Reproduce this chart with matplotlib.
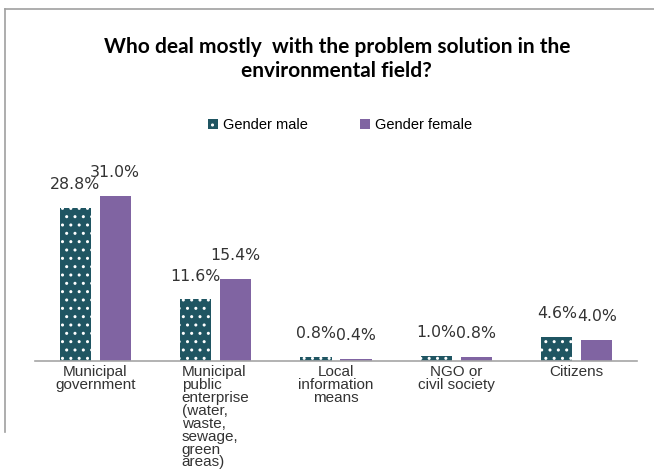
import matplotlib
matplotlib.use("Agg")
import matplotlib.pyplot as plt
from matplotlib.lines import Line2D
import numpy as np

# Survey answers by gender (percent)
categories = [
    "Municipal\ngovernment",
    "Municipal\npublic\nenterprise\n(water,\nwaste,\nsewage,\ngreen\nareas)",
    "Local\ninformation\nmeans",
    "NGO or\ncivil society",
    "Citizens",
]
male = [28.8, 11.6, 0.8, 1.0, 4.6]
female = [31.0, 15.4, 0.4, 0.8, 4.0]
series_names = ["Gender male", "Gender female"]

male_color = "#1F5562"
female_color = "#8064A2"
text_color = "#333333"

plt.rcParams["hatch.linewidth"] = 1.0

fig = plt.figure(figsize=(6.54, 4.76), dpi=100)
ax = fig.add_axes([0.0535, 0.2416, 0.9205, 0.4475])

x = np.arange(len(categories))
offset = 0.166
width = 0.26

bars_m = ax.bar(x - offset, male, width, color=male_color, edgecolor="white",
                linewidth=0, hatch="..", label=series_names[0])
bars_f = ax.bar(x + offset, female, width, color=female_color, linewidth=0,
                label=series_names[1])

for bars, vals in ((bars_m, male), (bars_f, female)):
    for b, v in zip(bars, vals):
        ax.annotate(f"{v:.1f}%", (b.get_x() + b.get_width() / 2, v),
                    xytext=(0, 23), textcoords="offset pixels",
                    ha="center", va="center", fontsize=11.3,
                    family="DejaVu Sans", color=text_color)

ax.set_xlim(-0.5, len(categories) - 0.5)
ax.set_ylim(0, 40)
ax.set_yticks([])
ax.set_xticks(x)
ax.set_xticklabels(categories, fontsize=11, family="Liberation Sans",
                   color=text_color, linespacing=0.9)
for i, lab in enumerate(ax.get_xticklabels()):
    lab.set_multialignment("left" if i == 1 else "center")
ax.tick_params(axis="x", length=0, pad=3)
for s in ("top", "right", "left"):
    ax.spines[s].set_visible(False)
ax.spines["bottom"].set_color("#A6A6A6")
ax.spines["bottom"].set_linewidth(1.2)

fig.text(0.515, 0.876, "Who deal mostly  with the problem solution in the\nenvironmental field?",
         ha="center", va="center", fontsize=15, fontweight="bold",
         family="Lato", color="black", linespacing=1.3)

fig.legend(handles=[bars_m, bars_f], loc="center", bbox_to_anchor=(0.52, 0.737),
           ncol=2, frameon=False, prop={"family": "Liberation Sans", "size": 10.5},
           handlelength=0.7, handleheight=0.7, handletextpad=0.3, columnspacing=3.6)

# Chart frame lines (top and left)
fig.add_artist(Line2D([0.008, 1.0], [0.981, 0.981], transform=fig.transFigure,
                      color="#A0A0A0", linewidth=1.2))
fig.add_artist(Line2D([0.008, 0.008], [0.981, 0.092], transform=fig.transFigure,
                      color="#A0A0A0", linewidth=1.2))

fig.savefig("out.png", dpi=100)
